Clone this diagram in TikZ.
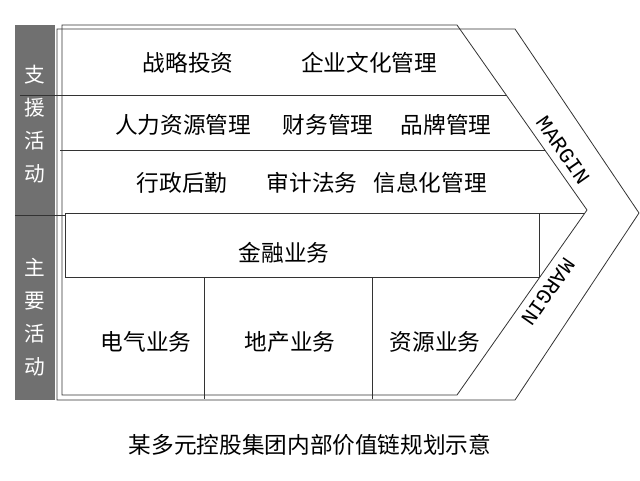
\documentclass[tikz,border=0pt]{standalone}
\usepackage{fontspec}
\setmainfont{Liberation Serif}
\newfontfamily\cjk{Noto Sans CJK SC}
\newfontfamily\marginfont{Liberation Mono}
\definecolor{barGray}{RGB}{112,112,112}

\begin{document}
\begin{tikzpicture}[x=0.75pt,y=-0.75pt,
  frameline/.style={draw=black!80,line width=0.6pt},
  cell/.style={font=\cjk\fontsize{17}{19}\selectfont,inner sep=0pt},
  sidetxt/.style={font=\cjk\fontsize{15.5}{24.75}\selectfont,text=white,align=center,inner sep=0pt},
  margintxt/.style={font=\marginfont\fontsize{16}{16}\selectfont,inner sep=0pt}]
\useasboundingbox (0,0) rectangle (640,480);
% side bar
\fill[barGray] (15,25) rectangle (55,400);
\draw[frameline] (15,215) -- (65,215);
% the two chevron frames
\draw[frameline] (62,25) -- (457,25) -- (587,210) -- (457,395) -- (62,395) -- cycle;
\draw[frameline] (57,29) -- (515,29) -- (639,213) -- (515,400) -- (57,400) -- cycle;
% support rows
\draw[frameline] (20,95) -- (506,95);
\draw[frameline] (60,150) -- (545,150);
\draw[frameline] (65,213) -- (584,213);
% primary activities
\draw[frameline] (65,213) rectangle (539,277);
\draw[frameline] (204,277) -- (204,399);
\draw[frameline] (372,277) -- (372,399);
% side labels
\node[sidetxt] (support) at (35,124) {支\\援\\活\\动};
\node[sidetxt] (primary) at (35,317) {主\\要\\活\\动};
% texts
\node[cell] (invest) at (188,63) {战略投资};
\node[cell] (culture) at (369,63) {企业文化管理};
\node[cell] (hr) at (183,125) {人力资源管理};
\node[cell] (finmgmt) at (328,125) {财务管理};
\node[cell] (brand) at (446,125) {品牌管理};
\node[cell] (admin) at (182,183) {行政后勤};
\node[cell] (audit) at (312,183) {审计法务};
\node[cell] (infomgmt) at (430,183) {信息化管理};
\node[cell] (finance) at (284,253) {金融业务};
\node[cell] (electric) at (146,342) {电气业务};
\node[cell] (estate) at (290,342) {地产业务};
\node[cell] (resource) at (435,342) {资源业务};
\node[margintxt,rotate=-55] (marginup) at (563,150) {MARGIN};
\node[margintxt,rotate=-125] (margindown) at (548,292) {MARGIN};
\node[cell] (caption) at (310,445) {某多元控股集团内部价值链规划示意};
\end{tikzpicture}
\end{document}
